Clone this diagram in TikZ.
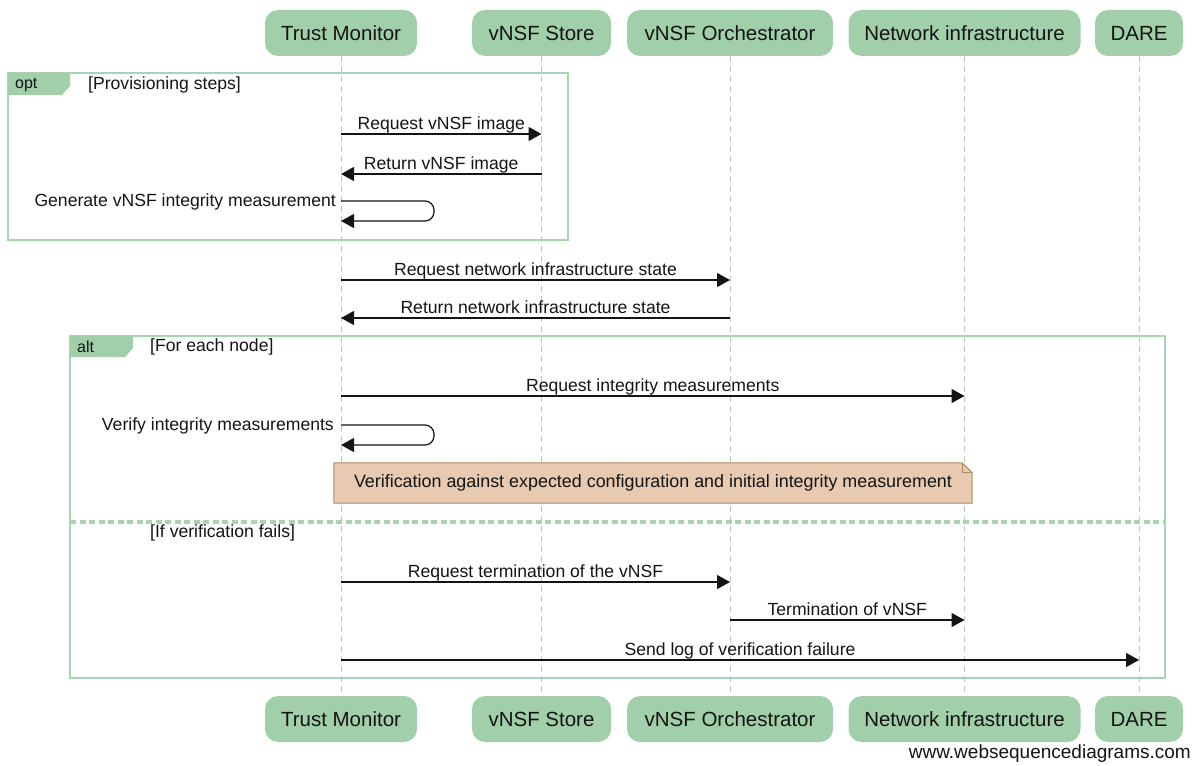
\documentclass[tikz,border=0pt]{standalone}
\usepackage{fontspec}
\setmainfont{Liberation Sans}
\usetikzlibrary{arrows.meta}
\definecolor{actorfill}{RGB}{161,207,170}
\definecolor{framecol}{RGB}{166,214,176}
\definecolor{lifecol}{RGB}{195,195,195}
\definecolor{notefill}{RGB}{232,202,176}
\definecolor{noteline}{RGB}{168,138,100}
\definecolor{ink}{RGB}{20,20,20}
\tikzset{
  actor/.style={fill=actorfill, rounded corners=13pt, minimum height=46pt, inner sep=0pt,
    text=ink, font=\fontsize{20.5}{24}\selectfont},
  lifeline/.style={lifecol, line width=1pt, dash pattern=on 6pt off 4pt},
  msg/.style={ink, line width=1.2pt, -{Triangle[length=13pt,width=14pt]}},
  lbl/.style={anchor=base, yshift=4.5pt, inner sep=0pt, text=ink, font=\fontsize{17.6}{20}\selectfont},
  selflbl/.style={anchor=east, inner sep=2pt, text=ink, font=\fontsize{17.6}{20}\selectfont},
  framebox/.style={framecol, line width=2.8pt},
  tab/.style={fill=actorfill, draw=none},
  tabtext/.style={anchor=west, inner sep=0pt, text=ink, font=\fontsize{16}{19}\selectfont},
  guard/.style={anchor=west, inner sep=0pt, text=ink, font=\fontsize{17.6}{20}\selectfont},
  notetext/.style={inner sep=0pt, minimum width=638pt, minimum height=40pt, text=ink,
    font=\fontsize{17.9}{20}\selectfont},
}
\begin{document}
\begin{tikzpicture}[x=1pt,y=-1pt]
\useasboundingbox (0,0) rectangle (1198,765);

% participants, top and bottom
\node[actor, minimum width=152pt] (tmT) at (341,33) {Trust Monitor};
\node[actor, minimum width=139pt] (stT) at (541.5,33) {vNSF Store};
\node[actor, minimum width=206pt] (orT) at (730,33) {vNSF Orchestrator};
\node[actor, minimum width=232pt] (niT) at (964.5,33) {Network infrastructure};
\node[actor, minimum width=88pt] (daT) at (1139,33) {DARE};
\node[actor, minimum width=152pt] (tmB) at (341,719) {Trust Monitor};
\node[actor, minimum width=139pt] (stB) at (541.5,719) {vNSF Store};
\node[actor, minimum width=206pt] (orB) at (730,719) {vNSF Orchestrator};
\node[actor, minimum width=232pt] (niB) at (964.5,719) {Network infrastructure};
\node[actor, minimum width=88pt] (daB) at (1139,719) {DARE};

% lifelines
\draw[lifeline] (tmT) -- (tmB);
\draw[lifeline] (stT) -- (stB);
\draw[lifeline] (orT) -- (orB);
\draw[lifeline] (niT) -- (niB);
\draw[lifeline] (daT) -- (daB);

% opt frame
\draw[framebox] (8,73) rectangle (568,240);
\fill[tab] (8,73) -- (70,73) -- (70,86) -- (62,95) -- (8,95) -- cycle;
\node[tabtext] (optlbl) at (15,85) {opt};
\node[guard] (optguard) at (88,85) {[Provisioning steps]};

% alt frame
\draw[framebox] (70,336) rectangle (1165,678);
\fill[tab] (70,336) -- (133,336) -- (133,348) -- (125,357) -- (70,357) -- cycle;
\node[tabtext] (altlbl) at (77,347) {alt};
\node[guard] (altguard) at (150,347) {[For each node]};
\draw[framecol, line width=4.5pt, dash pattern=on 6pt off 3.5pt] (70,522) -- (1165,522);
\node[guard] (elseguard) at (150,533) {[If verification fails]};

% messages
\draw[msg] (tmT |- 0,134) -- node[lbl] {Request vNSF image} (stT |- 0,134);
\draw[msg] (stT |- 0,174) -- node[lbl] {Return vNSF image} (tmT |- 0,174);
\coordinate (g1) at (tmT |- 0,201);
\coordinate (g2) at (tmT |- 0,221);
\draw[msg, rounded corners=9pt] (g1) -- (434,201) -- (434,221) -- (g2);
\node[selflbl] at ([xshift=-3pt,yshift=-1pt]g1) {Generate vNSF integrity measurement};

\draw[msg] (tmT |- 0,280) -- node[lbl] {Request network infrastructure state} (orT |- 0,280);
\draw[msg] (orT |- 0,318) -- node[lbl] {Return network infrastructure state} (tmT |- 0,318);

\draw[msg] (tmT |- 0,396) -- node[lbl] {Request integrity measurements} (niT |- 0,396);
\coordinate (v1) at (tmT |- 0,425);
\coordinate (v2) at (tmT |- 0,445);
\draw[msg, rounded corners=9pt] (v1) -- (434,425) -- (434,445) -- (v2);
\node[selflbl] at ([xshift=-5pt,yshift=-1pt]v1) {Verify integrity measurements};

% note
\node[notetext] (vnote) at (653,483) {};
\draw[noteline, fill=notefill, line width=1pt]
  (vnote.north west) -- ([xshift=-10pt]vnote.north east) -- ([yshift=-10pt]vnote.north east)
  -- (vnote.south east) -- (vnote.south west) -- cycle;
\draw[noteline, line width=1pt] ([xshift=-10pt]vnote.north east) -- ([xshift=-10pt,yshift=-10pt]vnote.north east) -- ([yshift=-10pt]vnote.north east);
\node[notetext] (vnotetext) at (vnote) {Verification against expected configuration and initial integrity measurement};

\draw[msg] (tmT |- 0,582) -- node[lbl] {Request termination of the vNSF} (orT |- 0,582);
\draw[msg] (orT |- 0,620) -- node[lbl] {Termination of vNSF} (niT |- 0,620);
\draw[msg] (tmT |- 0,660) -- node[lbl] {Send log of verification failure} (daT |- 0,660);

% footer
\node[anchor=east, inner sep=0pt, text=ink, font=\fontsize{19}{22}\selectfont] (wm) at (1191,754) {www.websequencediagrams.com};
\end{tikzpicture}
\end{document}
